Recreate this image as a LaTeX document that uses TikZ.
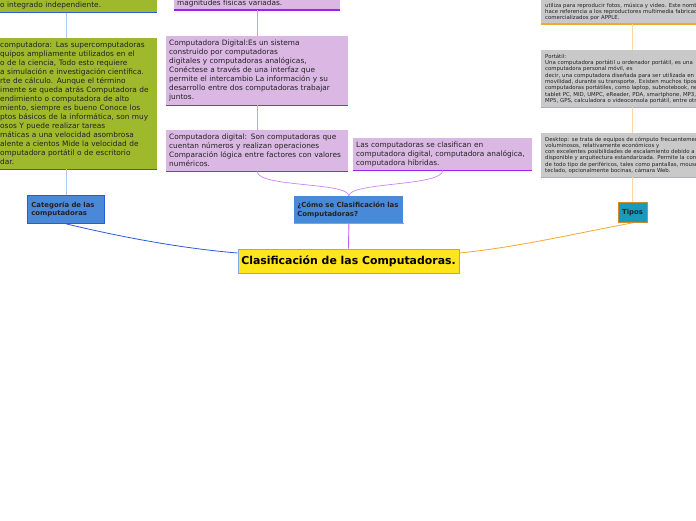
\documentclass[tikz,border=0pt]{standalone}
\usepackage{fontspec}
\setmainfont{DejaVu Sans}
\definecolor{verde}{HTML}{9FB92D}
\definecolor{morado}{HTML}{DAB8E3}
\definecolor{gris}{HTML}{C9C9C9}
\definecolor{azul}{HTML}{4A88D8}
\definecolor{amarillo}{HTML}{FFE51C}
\definecolor{turquesa}{HTML}{1B9ABE}
\definecolor{lineaazul}{HTML}{2B5BDA}
\definecolor{lineamorada}{HTML}{A21FF0}
\definecolor{lineanaranja}{HTML}{F5A530}
\definecolor{texto}{HTML}{222222}
\tikzset{
  rama/.style={anchor=north west, inner xsep=4pt, inner ysep=3pt, text=texto, align=left},
  ramaverde/.style={rama, fill=verde, font=\fontsize{7.4}{9}\selectfont},
  ramamorada/.style={rama, fill=morado, inner xsep=3pt, font=\fontsize{7.35}{9}\selectfont},
  ramagris/.style={rama, fill=gris, text width=230, font=\fontsize{5.4}{6.3}\selectfont},
  ramaazul/.style={rama, fill=azul, draw=lineaazul, line width=0.8pt, font=\bfseries\fontsize{6.9}{8.5}\selectfont},
  titulo/.style={fill=amarillo, draw=azul!70!white, line width=0.8pt, minimum width=221, minimum height=24, font=\bfseries\fontsize{10.9}{12}\selectfont, text=black},
  tiposbox/.style={fill=turquesa, draw=lineanaranja!85!black, line width=0.8pt, minimum width=29, minimum height=20, inner sep=1pt, font=\bfseries\fontsize{6.9}{8}\selectfont, text=texto},
  franja/.style={line width=1.2pt},
}
\begin{document}
\begin{tikzpicture}[x=1pt,y=-1pt]
\useasboundingbox (0,0) rectangle (696,520);
\clip (0,0) rectangle (696,520);

% columna izquierda
\node[ramaverde, anchor=south west, text width=153, text height=40] (vtop) at (-4,12.5) {o integrado independiente.};
\node[ramaverde, text width=153, minimum height=131] (vsuper) at (-4,38) { computadora: Las supercomputadoras\\
quipos ampliamente utilizados en el\\
o de la ciencia, Todo esto requiere\\
a simulación e investigación científica.\\
rte de cálculo. Aunque el término\\
imente se queda atrás Computadora de\\
endimiento o computadora de alto\\
miento, siempre es bueno Conoce los\\
ptos básicos de la informática, son muy\\
osos Y puede realizar tareas\\
máticas a una velocidad asombrosa\\
alente a cientos Mide la velocidad de\\
omputadora portátil o de escritorio\\
dar.};
\node[ramaazul, text width=69, minimum height=28] (cat) at (27,195) {Categoría de las\\computadoras};

% columna central
\node[ramamorada, anchor=south west, text width=160, text height=30] (mtop) at (174,10) {magnitudes físicas variadas.};
\node[ramamorada, text width=176, minimum height=69] (mdig) at (166,36) {Computadora Digital:Es un sistema\\
construido por computadoras\\
digitales y computadoras analógicas,\\
Conéctese a través de una interfaz que\\
permite el intercambio La información y su\\
desarrollo entre dos computadoras trabajar\\
juntos.};
\node[ramamorada, text width=176, minimum height=41] (mnum) at (166,130) {Computadora digital: Son computadoras que\\
cuentan números y realizan operaciones\\
Comparación lógica entre factores con valores\\
numéricos.};
\node[ramamorada, text width=173, minimum height=32] (mclas) at (353,138) {Las computadoras se clasifican en\\
computadora digital, computadora analógica,\\
computadora híbridas.};
\node[ramaazul, draw=none, inner xsep=3pt, text width=103, minimum height=27] (como) at (294,196) {¿Cómo se Clasificación las\\Computadoras?};
\node[titulo] (clas) at (348.5,261) {Clasificación de las Computadoras.};

% columna derecha
\node[ramagris, anchor=south west, text height=20] (gtop) at (541,24) {utiliza para reproducir fotos, música y video. Este nombre\\
hace referencia a los reproductores multimedia fabricados y\\
comercializados por APPLE.};
\node[ramagris, minimum height=57] (gport) at (541,50) {Portátil:\\
Una computadora portátil u ordenador portátil, es una\\
computadora personal móvil, es\\
decir, una computadora diseñada para ser utilizada en\\
movilidad, durante su transporte. Existen muchos tipos de\\
computadoras portátiles, como laptop, subnotebook, netbook,\\
tablet PC, MID, UMPC, eReader, PDA, smartphone, MP3, MP4,\\
MP5, GPS, calculadora o videoconsola portátil, entre otros.};
\node[ramagris, minimum height=44] (gdesk) at (541,133) {Desktop: se trata de equipos de cómputo frecuentemente\\
voluminosos, relativamente económicos y\\
con excelentes posibilidades de escalamiento debido a su\\
disponible y arquitectura estandarizada. Permite la conexión\\
de todo tipo de periféricos, tales como pantallas, mouse,\\
teclado, opcionalmente bocinas, cámara Web.};
\node[tiposbox] (tipos) at (632.5,212.5) {Tipos};

% franjas inferiores
\foreach \n in {vtop,vsuper}
  \draw[franja, lineaazul] (\n.south west) -- (\n.south east);
\foreach \n in {mtop,mdig,mnum,mclas}
  \draw[franja, lineamorada] (\n.south west) -- (\n.south east);
\draw[franja, lineamorada!60!white] (como.south west) -- (como.south east);
\foreach \n in {gtop,gport,gdesk}
  \draw[franja, lineanaranja] (\n.south west) -- (\n.south east);

% conectores
\draw[azul!45!white, line width=0.8pt] (cat.north |- vtop.south) -- (cat.north |- vsuper.north);
\draw[azul!45!white, line width=0.8pt] (cat.north |- vsuper.south) -- (cat.north);
\draw[lineaazul, line width=0.8pt] (cat.south) .. controls +(50,12) and +(-60,-5) .. ([yshift=8pt]clas.west);
\draw[lineamorada!45!white, line width=0.8pt] (mtop.south) -- (mdig.north);
\draw[lineamorada!45!white, line width=0.8pt] (mdig.south) -- (mnum.north);
\draw[lineamorada!55!white, line width=0.7pt] (mnum.south) .. controls +(0,16) and +(0,-14) .. (como.north);
\draw[lineamorada!55!white, line width=0.7pt] (mclas.south) .. controls +(0,16) and +(0,-14) .. (como.north);
\draw[lineamorada!70!white, line width=0.9pt] (como.south) -- (clas.north);
\draw[lineanaranja!45!white, line width=0.8pt] (tipos.north |- gtop.south) -- (tipos.north |- gport.north);
\draw[lineanaranja!45!white, line width=0.8pt] (tipos.north |- gport.south) -- (tipos.north |- gdesk.north);
\draw[lineanaranja!45!white, line width=0.8pt] (tipos.north |- gdesk.south) -- (tipos.north);
\draw[lineanaranja, line width=0.8pt] (tipos.south) .. controls +(-55,10) and +(60,-6) .. ([yshift=8pt]clas.east);
\end{tikzpicture}
\end{document}
